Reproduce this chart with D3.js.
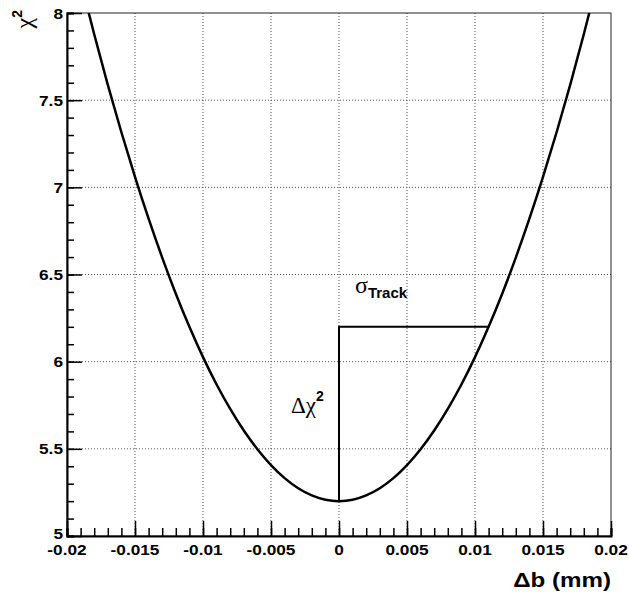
<!DOCTYPE html>
<html><head><meta charset="utf-8">
<script src="https://cdn.jsdelivr.net/npm/d3@7"></script>
<style>
body{margin:0;background:#fff;}
text{font-family:"Liberation Sans",Arial,Helvetica,sans-serif;font-weight:bold;fill:#000;}
.greek{font-family:"Liberation Serif","Times New Roman",serif;font-weight:normal;}
</style></head>
<body>
<svg id="chart" width="629" height="596"></svg>
<script>
// ---- data ----
const deltaB = [-0.0190,-0.0180,-0.0170,-0.0160,-0.0150,-0.0140,-0.0130,-0.0120,-0.0110,-0.0100,-0.0090,-0.0080,-0.0070,-0.0060,-0.0050,-0.0040,-0.0030,-0.0020,-0.0010,0.0000,
                0.0010,0.0020,0.0030,0.0040,0.0050,0.0060,0.0070,0.0080,0.0090,0.0100,0.0110,0.0120,0.0130,0.0140,0.0150,0.0160,0.0170,0.0180,0.0190];
const chi2 = [8.183,7.878,7.588,7.316,7.060,6.820,6.597,6.390,6.200,6.026,5.869,5.729,5.605,5.498,5.407,5.332,5.274,5.233,5.208,5.200,
              5.208,5.233,5.274,5.332,5.407,5.498,5.605,5.729,5.869,6.026,6.200,6.390,6.597,6.820,7.060,7.316,7.588,7.878,8.183];
const xTickValues = [-0.02,-0.015,-0.01,-0.005,0,0.005,0.01,0.015,0.02];
const xTickLabels = ["-0.02","-0.015","-0.01","-0.005","0","0.005","0.01","0.015","0.02"];
const yTickValues = [5,5.5,6,6.5,7,7.5,8];
const yTickLabels = ["5","5.5","6","6.5","7","7.5","8"];
const chiMin = [0, 5.2];       // minimum of the curve
const sigmaEnd = [0.011, 6.2]; // one sigma point

// ---- layout ----
const L = 67, T = 13, R = 611, B = 536;
const svg = d3.select("#chart");
const x = d3.scaleLinear().domain([-0.02, 0.02]).range([L, R]);
const y = d3.scaleLinear().domain([5, 8]).range([B, T]);

// grid
const gx = xTickValues.slice(1, -1), gy = yTickValues.slice(1, -1);
svg.append("g").selectAll("line").data(gx).join("line")
  .attr("x1", d => x(d)).attr("x2", d => x(d)).attr("y1", T).attr("y2", B)
  .attr("stroke", "#555").attr("stroke-width", 1).attr("stroke-dasharray", "1,2");
svg.append("g").selectAll("line").data(gy).join("line")
  .attr("y1", d => y(d)).attr("y2", d => y(d)).attr("x1", L).attr("x2", R)
  .attr("stroke", "#555").attr("stroke-width", 1).attr("stroke-dasharray", "1,2");

// frame
svg.append("rect").attr("x", L).attr("y", T).attr("width", R - L).attr("height", B - T)
  .attr("fill", "none").attr("stroke", "#222").attr("stroke-width", 1);

// x axis (ticks upward)
const xMinor = d3.range(-20, 21).map(i => i / 1000);
const gxa = svg.append("g").attr("transform", `translate(0,${B})`)
  .call(d3.axisTop(x).tickValues(xMinor).tickSize(8).tickFormat(""));
gxa.select(".domain").attr("stroke-width", 2);
const gxm = svg.append("g").attr("transform", `translate(0,${B})`)
  .call(d3.axisTop(x).tickValues(xTickValues).tickSize(15).tickFormat(""));
gxm.select(".domain").remove();

// y axis (ticks rightward)
const yMinor = d3.range(50, 81).map(i => i / 10);
const gya = svg.append("g").attr("transform", `translate(${L},0)`)
  .call(d3.axisRight(y).tickValues(yMinor).tickSize(7).tickFormat(""));
gya.select(".domain").attr("stroke-width", 2);
const gym = svg.append("g").attr("transform", `translate(${L},0)`)
  .call(d3.axisRight(y).tickValues(yTickValues).tickSize(15).tickFormat(""));
gym.select(".domain").remove();
svg.selectAll(".tick line").attr("stroke-width", 1.5);

// tick labels
svg.append("g").selectAll("text").data(xTickValues).join("text")
  .attr("transform", d => `translate(${x(d)},${B + 19}) scale(1.15,1)`)
  .attr("text-anchor", "middle").attr("font-size", 15)
  .text((d, i) => xTickLabels[i]);
svg.append("g").selectAll("text").data(yTickValues).join("text")
  .attr("transform", (d, i) => `translate(${L - 4},${y(d) + 5.5 - (i === 0 ? 3 : 0)}) scale(1.15,1)`)
  .attr("text-anchor", "end").attr("font-size", 15)
  .text((d, i) => yTickLabels[i]);

// clip
svg.append("clipPath").attr("id", "clip").append("rect")
  .attr("x", L).attr("y", T).attr("width", R - L).attr("height", B - T);

// curve
const pts = deltaB.map((d, i) => [d, chi2[i]]);
svg.append("path").datum(pts).attr("clip-path", "url(#clip)")
  .attr("d", d3.line().x(d => x(d[0])).y(d => y(d[1])).curve(d3.curveNatural))
  .attr("fill", "none").attr("stroke", "#000").attr("stroke-width", 2.5);

// sigma lines
svg.append("path")
  .attr("d", d3.line()([[x(chiMin[0]), y(chiMin[1])], [x(chiMin[0]), y(sigmaEnd[1])], [x(sigmaEnd[0]), y(sigmaEnd[1])]]))
  .attr("fill", "none").attr("stroke", "#000").attr("stroke-width", 2);

// annotations
const sig = svg.append("text").attr("x", 355).attr("y", 293).attr("font-size", 24);
sig.append("tspan").attr("class", "greek").text("σ");
sig.append("tspan").attr("font-size", 15).attr("dy", 5).text("Track");

const dchi = svg.append("text").attr("x", 291).attr("y", 413).attr("font-size", 23);
dchi.append("tspan").attr("class", "greek").text("Δχ");
dchi.append("tspan").attr("font-size", 14).attr("dy", -12).text("2");

// axis titles
svg.append("text").attr("transform", `translate(611,587) scale(1.15,1)`)
  .attr("text-anchor", "end").attr("font-size", 21).text("Δb (mm)");
const yt = svg.append("text").attr("transform", "translate(32,10) rotate(-90)")
  .attr("text-anchor", "end").attr("font-size", 24);
yt.append("tspan").attr("class", "greek").text("χ");
yt.append("tspan").attr("font-size", 14).attr("dy", -10).text("2");
</script>
</body></html>
